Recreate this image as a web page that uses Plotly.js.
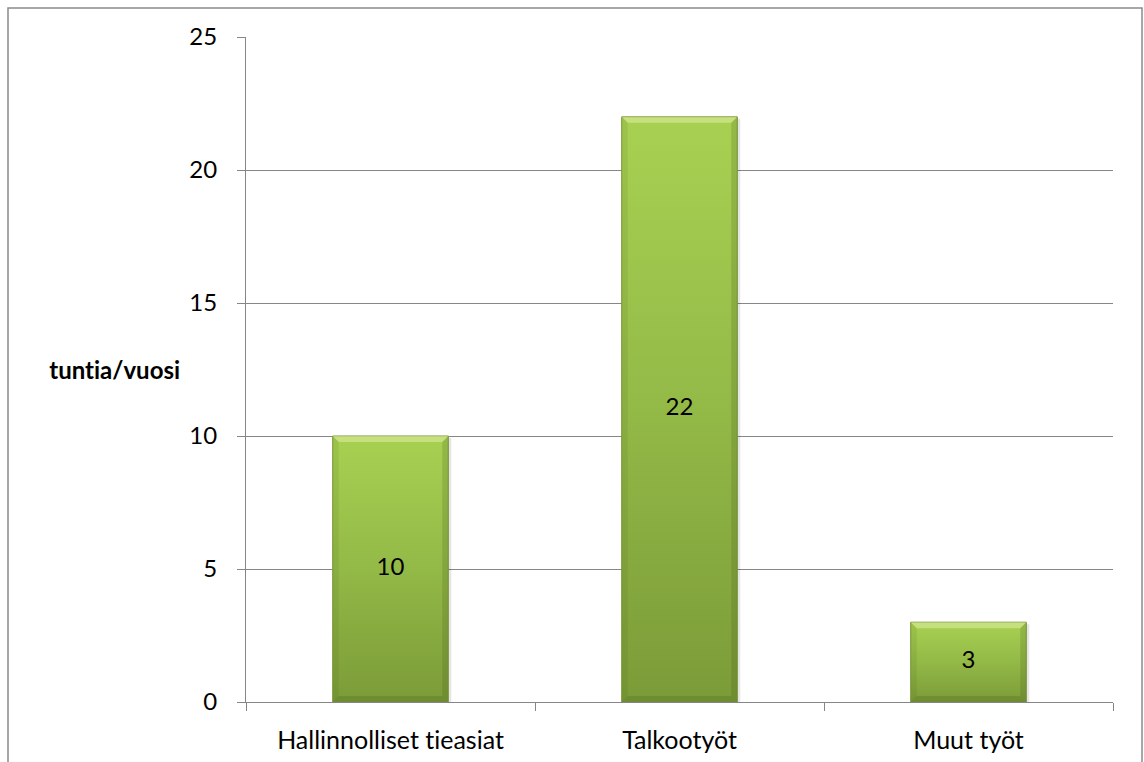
<!DOCTYPE html>
<html>
<head>
<meta charset="utf-8">
<script src="https://cdn.plot.ly/plotly-3.0.1.min.js"></script>
<style>
  html, body { margin: 0; padding: 0; background: #fff; }
  #chart { width: 1144px; height: 762px; }
  #chart text { font-variant-ligatures: none !important; font-feature-settings: "liga" 0, "clig" 0; }
</style>
</head>
<body>
<div id="chart"></div>
<script>
// Hours per year spent on road association work
const categories = ['Hallinnolliset tieasiat', 'Talkootyöt', 'Muut työt'];
const hours = [10, 22, 3];
const yTicks = [0, 5, 10, 15, 20, 25];

// Plot geometry (pixels) used to size the bevel and shadow in data units
const W = 1144, H = 762;
const margin = { l: 246, r: 31, t: 37, b: 60 };
const xRange = [-0.5, categories.length - 0.5];
const yRange = [0, 25];
const plotW = W - margin.l - margin.r;
const plotH = H - margin.t - margin.b;
const pxX = (xRange[1] - xRange[0]) / plotW;   // data units per pixel, x
const pxY = (yRange[1] - yRange[0]) / plotH;   // data units per pixel, y

const barWidth = 0.4;
const bevel = 6;
const FONT = 'Lato, "Open Sans", sans-serif';
const FSIZE = 24;

const traces = [];

// soft drop shadow behind each bar
const shX = [], shY = [];
hours.forEach((v, i) => {
  const x0 = i - barWidth / 2 + 3 * pxX, x1 = i + barWidth / 2 + 3 * pxX;
  const top = v - 2 * pxY, bot = -3 * pxY;
  shX.push(x0, x1, x1, x0, x0, null);
  shY.push(top, top, bot, bot, top, null);
});
traces.push({
  type: 'scatter', mode: 'lines', x: shX, y: shY, fill: 'toself',
  fillcolor: 'rgba(0,0,0,0.10)', line: { width: 0 }, hoverinfo: 'skip', showlegend: false
});

// bar bodies with a vertical green gradient
hours.forEach((v, i) => {
  const x0 = i - barWidth / 2, x1 = i + barWidth / 2;
  traces.push({
    type: 'scatter', mode: 'lines',
    x: [x0, x1, x1, x0, x0],
    y: [0, 0, v, v, 0],
    fill: 'toself',
    fillgradient: {
      type: 'vertical',
      colorscale: [[0, '#7b9b38'], [0.5, '#93b947'], [1, '#a8d152']]
    },
    line: { color: '#7a9838', width: 1 },
    hoverinfo: 'skip', showlegend: false
  });
});

// bevel facets: lit top edge, shaded sides and bottom
function facet(color, build) {
  const fx = [], fy = [];
  hours.forEach((v, i) => {
    const x0 = i - barWidth / 2, x1 = i + barWidth / 2;
    const bx = bevel * pxX, by = bevel * pxY;
    const pts = build(x0, x1, v, bx, by);
    pts.forEach(p => { fx.push(p[0]); fy.push(p[1]); });
    fx.push(pts[0][0], null); fy.push(pts[0][1], null);
  });
  traces.push({
    type: 'scatter', mode: 'lines', x: fx, y: fy, fill: 'toself',
    fillcolor: color, line: { width: 0 }, hoverinfo: 'skip', showlegend: false
  });
}
facet('rgba(255,255,210,0.35)', (x0, x1, v, bx, by) =>
  [[x0, v], [x1, v], [x1 - bx, v - by], [x0 + bx, v - by]]);
facet('rgba(60,80,20,0.10)', (x0, x1, v, bx, by) =>
  [[x0, v], [x0 + bx, v - by], [x0 + bx, by], [x0, 0]]);
facet('rgba(60,80,20,0.18)', (x0, x1, v, bx, by) =>
  [[x1, v], [x1 - bx, v - by], [x1 - bx, by], [x1, 0]]);
facet('rgba(60,80,20,0.20)', (x0, x1, v, bx, by) =>
  [[x0, 0], [x0 + bx, by], [x1 - bx, by], [x1, 0]]);

// value labels centred inside each bar
traces.push({
  type: 'scatter', mode: 'text',
  x: hours.map((v, i) => i),
  y: hours.map(v => v / 2),
  text: hours.map(v => String(v)),
  textposition: 'middle center',
  textfont: { family: FONT, size: FSIZE, color: '#000' },
  hoverinfo: 'skip', showlegend: false
});

const gridGrey = '#868686';
const frameX = v => (v - margin.l) / plotW;
const frameY = v => (H - margin.b - v) / plotH;

const layout = {
  width: W, height: H,
  margin: margin,
  paper_bgcolor: '#fff', plot_bgcolor: '#fff',
  showlegend: false,
  font: { family: FONT, size: FSIZE, color: '#000' },
  xaxis: {
    range: xRange, fixedrange: true,
    tickvals: categories.map((c, i) => i),
    ticktext: categories,
    ticks: '', ticklabelstandoff: 16,
    showgrid: false, zeroline: false,
    showline: true, linecolor: gridGrey, linewidth: 1,
    minor: {
      tickvals: categories.map((c, i) => i - 0.5).concat([categories.length - 0.5]),
      ticks: 'outside', ticklen: 8, tickcolor: gridGrey, tickwidth: 1, showgrid: false
    },
    tickfont: { family: FONT, size: 25, color: '#000' }
  },
  yaxis: {
    range: yRange, fixedrange: true,
    tickvals: yTicks,
    ticks: 'outside', ticklen: 8, tickcolor: gridGrey, tickwidth: 1,
    showgrid: true, gridcolor: gridGrey, gridwidth: 1,
    zeroline: false, showline: true, linecolor: gridGrey, linewidth: 1,
    tickfont: { family: FONT, size: FSIZE, color: '#000' },
    ticklabelstandoff: 15
  },
  annotations: [{
    text: '<b>tuntia/vuosi</b>',
    xref: 'paper', yref: 'paper',
    x: frameX(114), y: 0.5, xanchor: 'center', yanchor: 'middle',
    showarrow: false,
    font: { family: FONT, size: FSIZE, color: '#000' }
  }],
  shapes: [{
    type: 'rect', xref: 'paper', yref: 'paper',
    x0: frameX(8), x1: frameX(1142), y0: frameY(800), y1: frameY(8),
    line: { color: '#8a8a8a', width: 1.5 }, fillcolor: 'rgba(0,0,0,0)', layer: 'below'
  }]
};

Plotly.newPlot('chart', traces, layout, { displayModeBar: false, staticPlot: true });
</script>
</body>
</html>
